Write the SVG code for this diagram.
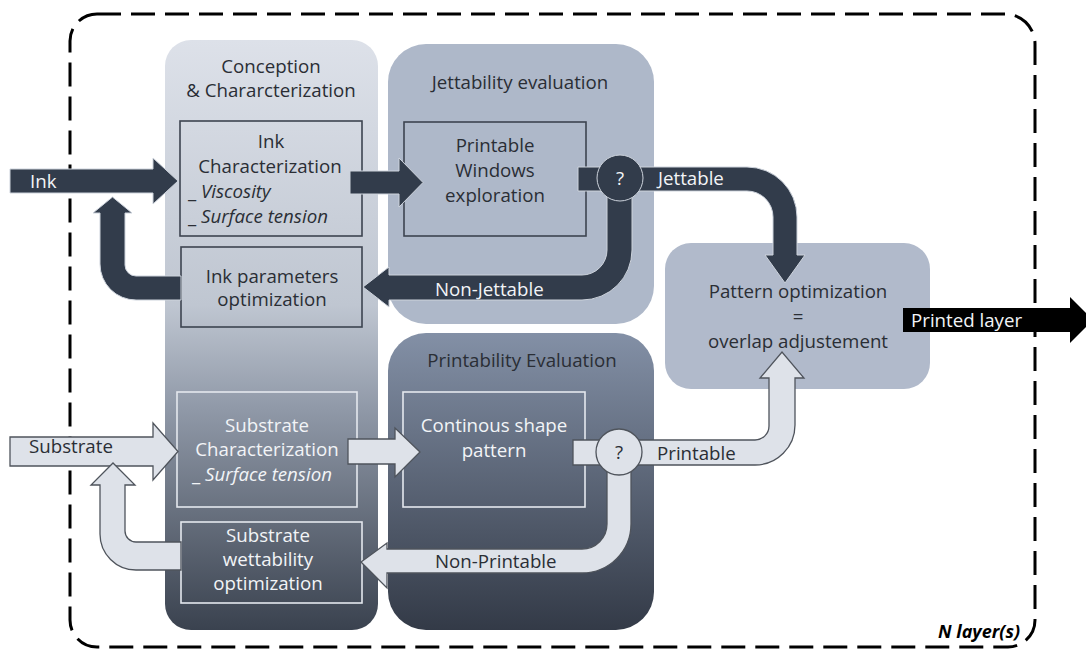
<svg xmlns="http://www.w3.org/2000/svg" width="1086" height="657" viewBox="0 0 1086 657">
<defs>
<linearGradient id="gConc" x1="0" y1="0" x2="0" y2="1">
<stop offset="0" stop-color="#dde1e9"/>
<stop offset="0.45" stop-color="#bfc6d1"/>
<stop offset="0.62" stop-color="#919aa9"/>
<stop offset="1" stop-color="#3a424f"/>
</linearGradient>
<linearGradient id="gPrint" x1="0" y1="0" x2="0" y2="1">
<stop offset="0" stop-color="#8390a6"/>
<stop offset="1" stop-color="#333a47"/>
</linearGradient>
<style>
text{font-family:"Open Sans","Liberation Sans",sans-serif;font-size:18.7px;fill:#2a2e35;text-anchor:middle}
.w{fill:#f2f4f7}
.l{text-anchor:start}
.it{font-style:italic}
.dk{fill:#323c4b;stroke:#cdd3dc;stroke-width:1}
.lt{fill:#dee2e9;stroke:#4f545c;stroke-width:1.3}
.bxd{fill:none;stroke:#3d4450;stroke-width:1.6}
.bxl{fill:none;stroke:#e4e8ee;stroke-width:1.6}
</style>
</defs>
<path id="border" d="M97,14 H1005 A30,30 0 0 1 1035,44 V620 A27,27 0 0 1 1008,647 H97 A27,27 0 0 1 70,620 V41 A27,27 0 0 1 97,14 Z" fill="none" stroke="#000" stroke-width="3" stroke-dasharray="24 10"/>

<g id="conception">
<rect x="165" y="40" width="213" height="590" rx="26" fill="url(#gConc)"/>
<text x="271" y="73">Conception</text>
<text x="271" y="97">&amp; Chararcterization</text>
</g>
<g id="jettability">
<rect x="388" y="44" width="266" height="280" rx="38" fill="#aeb8c9"/>
<text x="520" y="89">Jettability evaluation</text>
</g>
<g id="printability">
<rect x="388" y="333" width="266" height="297" rx="38" fill="url(#gPrint)"/>
<text x="522" y="367">Printability Evaluation</text>
</g>
<g id="pattern">
<rect x="665" y="243" width="265" height="146" rx="26" fill="#b1bacb"/>
<text x="798" y="298">Pattern optimization</text>
<text x="798" y="323">=</text>
<text x="798" y="348">overlap adjustement</text>
</g>
<g id="ink-char">
<rect x="180" y="121" width="182" height="115" class="bxd"/>
<text x="271" y="148">Ink</text>
<text x="270" y="173">Characterization</text>
<text x="188" y="198" class="l">_ <tspan class="it">Viscosity</tspan></text>
<text x="188" y="223" class="l">_ <tspan class="it">Surface tension</tspan></text>
</g>
<g id="ink-params">
<rect x="181" y="247" width="181" height="80" class="bxd"/>
<text x="272" y="283">Ink parameters</text>
<text x="272" y="306">optimization</text>
</g>
<g id="printable-windows">
<rect x="404" y="122" width="182" height="114" class="bxd"/>
<text x="495" y="152">Printable</text>
<text x="495" y="177">Windows</text>
<text x="495" y="202">exploration</text>
</g>
<g id="substrate-char">
<rect x="177" y="392" width="180" height="115" class="bxl"/>
<text x="267" y="432" class="w">Substrate</text>
<text x="267" y="456" class="w">Characterization</text>
<text x="192" y="481" class="w l">_ <tspan class="it">Surface tension</tspan></text>
</g>
<g id="substrate-wett">
<rect x="181" y="522" width="181" height="81" class="bxl"/>
<text x="268" y="542" class="w">Substrate</text>
<text x="268" y="566" class="w">wettability</text>
<text x="268" y="590" class="w">optimization</text>
</g>
<g id="continuous">
<rect x="403" y="392" width="182" height="115" class="bxl"/>
<text x="494" y="432" class="w">Continous shape</text>
<text x="494" y="457" class="w">pattern</text>
</g>

<g id="connectors">
<path class="dk" d="M10,169 H153 V158 L178,181 L153,204 V193 H10 Z"/>
<text x="30" y="188" class="w l">Ink</text>
<path class="dk" d="M181,276 H136 A11,11 0 0 1 125,265 V213 H132 L112.5,197 L93,213 H100 V264 A36,36 0 0 0 136,300 H181 Z"/>
<path class="dk" d="M350,171 H399 V158 L423,182.5 L399,207 V194 H350 Z"/>
<path class="dk" d="M578,167 H747 A50,50 0 0 1 797,217 V255 H805 L785,283 L765,255 H773 V217 A26,26 0 0 0 747,191 H578 Z"/>
<path class="dk" d="M607,190 H632 V250 A50,50 0 0 1 582,300 H389 V307 L363,287 L389,267 V275 H582 A25,25 0 0 0 607,250 Z"/>
<circle cx="620" cy="178" r="23" class="dk" stroke-width="1.5"/>
<text x="620" y="185" class="w">?</text>
<text x="658" y="185" class="w l">Jettable</text>
<text x="435" y="296" class="w l">Non-Jettable</text>

<path d="M903,308 H1070 V297 L1093,320 L1070,343 V332 H903 Z" fill="#000"/>
<text x="911" y="327" class="w l">Printed layer</text>

<path class="lt" d="M10,437 H153 V423 L178,451.5 L153,480 V466 H10 Z"/>
<text x="29" y="453" class="l">Substrate</text>
<path class="lt" d="M181,542 H136 A11,11 0 0 1 125,531 V485 H135 L113,463 L91,485 H100 V534 A36,36 0 0 0 136,570 H181 Z"/>
<path class="lt" d="M348,439 H395 V428 L420,452 L395,477 V464 H348 Z"/>
<path class="lt" d="M573,440 H755 A14,14 0 0 0 769,426 V378 H760 L782,352 L804,378 H795 V425 A40,40 0 0 1 755,465 H573 Z"/>
<path class="lt" d="M607,462 H631 V524 A49,49 0 0 1 582,573 H387 V588 L361,562 L387,543 V549 H582 A25,25 0 0 0 607,524 Z"/>
<circle cx="619" cy="452" r="23" class="lt"/>
<text x="619" y="459">?</text>
<text x="657" y="460" class="l">Printable</text>
<text x="435" y="568" class="l">Non-Printable</text>
</g>
<text x="1020" y="638" style="font-weight:bold;font-style:italic;font-size:18px;text-anchor:end;fill:#000">N layer(s)</text>
</svg>
